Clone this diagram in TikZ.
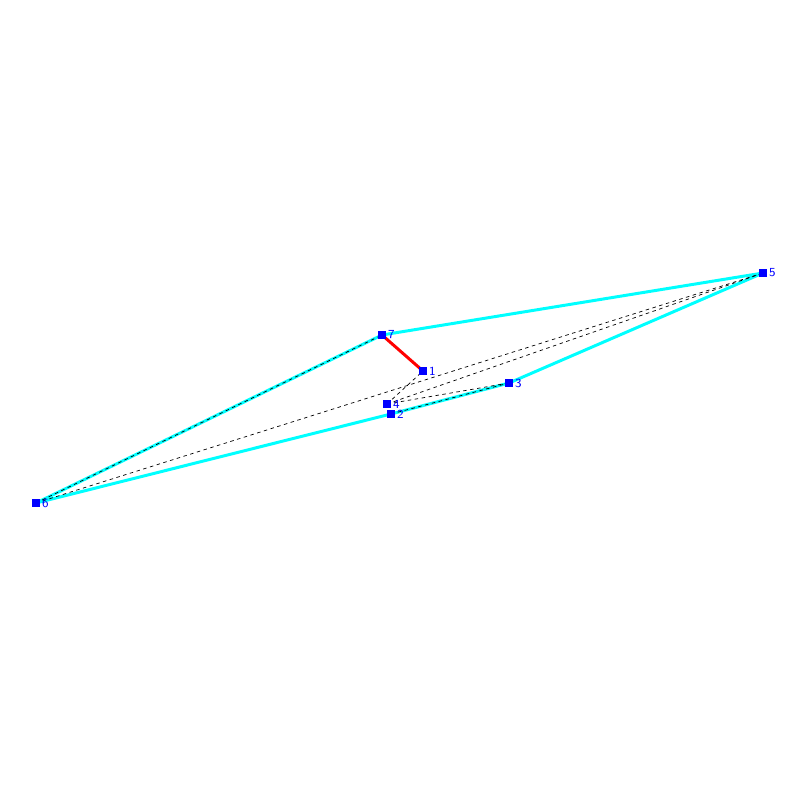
\documentclass[tikz,border=0pt]{standalone}
\definecolor{edgecyan}{RGB}{0,255,255}
\definecolor{ptblue}{RGB}{0,0,255}
\begin{document}
\begin{tikzpicture}[x=0.02cm,y=-0.02cm,
  pt/.style={fill=ptblue,inner sep=0pt,minimum size=5pt},
  lbl/.style={text=ptblue,font=\sffamily\scriptsize,inner sep=0.6pt},
  edge/.style={edgecyan,line width=1.7pt,line join=round},
  hidden/.style={black,line width=0.4pt,dash pattern=on 2pt off 2pt}]
\useasboundingbox (0,0) rectangle (800,800);
\coordinate (p1) at (423,371);
\coordinate (p2) at (391,414);
\coordinate (p3) at (509,383);
\coordinate (p4) at (387,404);
\coordinate (p5) at (763,273);
\coordinate (p6) at (36,503);
\coordinate (p7) at (382,335);
\draw[edge] (p7) -- (p5) -- (p3) -- (p2) -- (p6) -- cycle;
\draw[hidden] (p6) -- (p7);
\draw[hidden] (p6) -- (p5);
\draw[hidden] (p4) -- (p5);
\draw[hidden] (p4) -- (p3);
\draw[hidden] (p4) -- (p1);
\draw[hidden] (p2) -- (p3);
\draw[red,line width=1.7pt] (p7) -- (p1);
\foreach \i in {1,...,7}
  \node[pt,label={[lbl]right:\i}] (m\i) at (p\i) {};
\end{tikzpicture}
\end{document}
